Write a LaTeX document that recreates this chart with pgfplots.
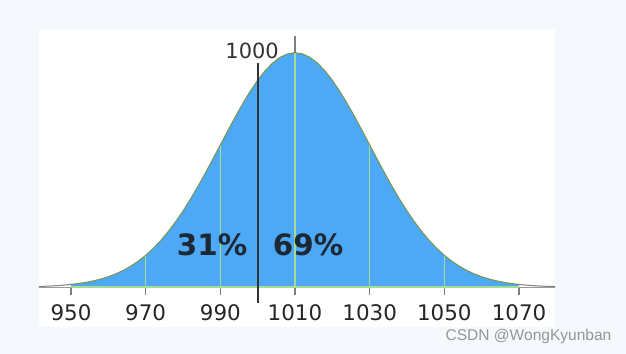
\documentclass[border=0pt]{standalone}
\usepackage{pgfplots}
\pgfplotsset{compat=1.18}
\usepackage{pgfplotstable}
\usepackage{fontspec}
\setmainfont{DejaVu Sans}
\newfontfamily\wmfont{Liberation Sans}
\definecolor{bgc}{RGB}{245,248,252}
\definecolor{fillblue}{RGB}{77,168,245}
\definecolor{edgegreen}{RGB}{120,150,80}
\definecolor{linegreen}{RGB}{165,220,145}
\definecolor{txtdark}{RGB}{28,40,52}
\pgfplotstableread{
x y
950 0.01111
952 0.01492
954 0.01984
956 0.02612
958 0.03405
960 0.04394
962 0.05613
964 0.07100
966 0.08892
968 0.11025
970 0.13534
972 0.16447
974 0.19790
976 0.23575
978 0.27804
980 0.32465
982 0.37531
984 0.42956
986 0.48675
988 0.54607
990 0.60653
992 0.66698
994 0.72615
996 0.78270
998 0.83527
1000 0.88250
1002 0.92312
1004 0.95600
1006 0.98020
1008 0.99501
1010 1.00000
1012 0.99501
1014 0.98020
1016 0.95600
1018 0.92312
1020 0.88250
1022 0.83527
1024 0.78270
1026 0.72615
1028 0.66698
1030 0.60653
1032 0.54607
1034 0.48675
1036 0.42956
1038 0.37531
1040 0.32465
1042 0.27804
1044 0.23575
1046 0.19790
1048 0.16447
1050 0.13534
1052 0.11025
1054 0.08892
1056 0.07100
1058 0.05613
1060 0.04394
1062 0.03405
1064 0.02612
1066 0.01984
1068 0.01492
1070 0.01111
}\curvetable

\begin{document}
\begin{tikzpicture}
\fill[bgc] (0bp,0bp) rectangle (626bp,354bp);
\coordinate (A) at (39bp,27bp);
\begin{axis}[
  at={(A)}, anchor=south west,
  width=516bp, height=297bp, scale only axis,
  xmin=941.43, xmax=1079.64, ymin=-0.1707, ymax=1.0969,
  axis x line=center, axis y line=none,
  axis background/.style={fill=white},
  x axis line style={-, draw=gray!80, line width=1bp},
  xtick={950,970,990,1010,1030,1050,1070},
  xticklabels={950,970,990,1010,1030,1050,1070},
  xtick align=outside, major tick length=8bp,
  x tick style={draw=gray, line width=1.2bp},
  xticklabel style={font=\fontsize{21.5}{24}\selectfont, text=black!85, inner sep=0pt, anchor=north, yshift=-9bp},
  clip=false,
]
% filled area
\addplot[fill=fillblue, draw=none] table[x=x,y=y] {\curvetable} \closedcycle;
% green vertical lines
\addplot[linegreen, line width=1.3bp] coordinates {(970,0) (970,0.13534)};
\addplot[linegreen, line width=1.3bp] coordinates {(990,0) (990,0.60653)};
\addplot[linegreen, line width=1.3bp] coordinates {(1010,0) (1010,1.0)};
\addplot[linegreen, line width=1.3bp] coordinates {(1030,0) (1030,0.60653)};
\addplot[linegreen, line width=1.3bp] coordinates {(1050,0) (1050,0.13534)};
% baseline under fill
\addplot[linegreen, line width=1.2bp] coordinates {(950,0) (1070,0)};
% curve outline
\addplot[edgegreen, line width=1bp] table[x=x,y=y] {\curvetable};
% tails
\addplot[gray, line width=1bp] coordinates {(941.43,0.002) (944,0.0037) (947,0.0065) (950,0.0111)};
\addplot[gray, line width=1bp] coordinates {(1070,0.0111) (1073,0.0065) (1076,0.0037) (1079.64,0.002)};
% top tick at 1010
\addplot[gray, line width=1.8bp] coordinates {(1010,1.0) (1010,1.07)};
% black line at 1000
\addplot[black!80, line width=1.8bp] coordinates {(1000,-0.068) (1000,0.956)};
% texts
\node[font=\fontsize{29.5}{32}\selectfont\bfseries, text=txtdark] at (axis cs:987.8,0.179) {31\%};
\node[font=\fontsize{29.5}{32}\selectfont\bfseries, text=txtdark] at (axis cs:1013.5,0.179) {69\%};
\node[font=\fontsize{21}{24}\selectfont, text=black!80] at (axis cs:998.5,1.007) {1000};
\end{axis}
\node[font=\wmfont\fontsize{15.6}{17}\selectfont, text={rgb,255:red,150;green,150;blue,150}] at (528.5bp,18bp) {CSDN @WongKyunban};
\pgfresetboundingbox
\path (0bp,0bp) rectangle (626bp,354bp);
\end{tikzpicture}
\end{document}
